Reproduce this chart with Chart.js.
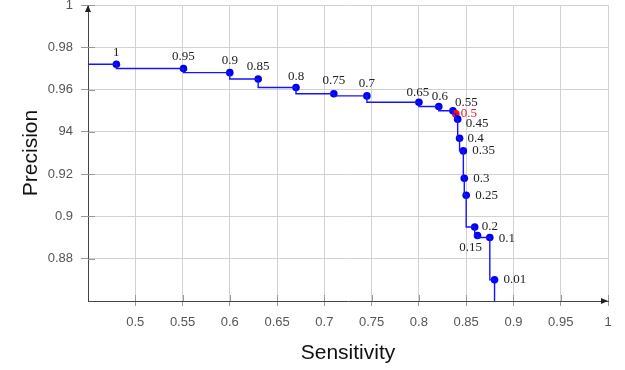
<!DOCTYPE html>
<html><head><meta charset="utf-8">
<script src="https://cdn.jsdelivr.net/npm/chart.js@4/dist/chart.umd.min.js"></script>
<style>html,body{margin:0;padding:0;background:#fff;}#wrap{width:625px;height:370px;position:relative;}</style>
</head><body><div id="wrap"><canvas id="c" width="625" height="370"></canvas></div>
<script>
// ---- data ----
const thresholds = ['1','0.95','0.9','0.85','0.8','0.75','0.7','0.65','0.6','0.55','0.5','0.45','0.4','0.35','0.3','0.25','0.2','0.15','0.1','0.01'];
const sensitivity = [0.48,0.551,0.6,0.63,0.67,0.71,0.745,0.8,0.821,0.836,0.839,0.841,0.843,0.847,0.848,0.85,0.859,0.862,0.875,0.88];
const precision = [0.972,0.970,0.968,0.965,0.961,0.958,0.957,0.954,0.952,0.950,0.9485,0.946,0.937,0.931,0.918,0.910,0.895,0.891,0.890,0.870];
const highlighted = '0.5';
const xTickValues = [0.5,0.55,0.6,0.65,0.7,0.75,0.8,0.85,0.9,0.95,1];
const xTickLabels = ['0.5','0.55','0.6','0.65','0.7','0.75','0.8','0.85','0.9','0.95','1'];
const yTickValues = [0.88,0.9,0.92,0.94,0.96,0.98,1];
const yTickLabels = ['0.88','0.9','0.92','94','0.96','0.98','1'];
const xRange = [0.45, 1];
const yRange = [0.86, 1];
const xTitle = 'Sensitivity';
const yTitle = 'Precision';

// ---- label placement (style) ----
const labelOffsets = [
  [0,-12,'center'],[0,-12,'center'],[0,-12,'center'],[0,-12,'center'],[0,-11,'center'],
  [0,-13,'center'],[0,-12,'center'],[-1,-10,'center'],[1,-10,'center'],[2,-8,'left'],
  [5,0,'left'],[8,4,'left'],[8,0,'left'],[9,0,'left'],[9,0,'left'],[9,0,'left'],
  [7,0,'left'],[-7,12,'center'],[9,1,'left'],[9,0,'left']
];

const points = sensitivity.map((s,i)=>({x:s,y:precision[i]}));
const lineData = [{x:xRange[0],y:precision[0]}].concat(points,[{x:sensitivity[sensitivity.length-1],y:yRange[0]}]);
const pointColors = thresholds.map(t=> t===highlighted ? '#ff1010' : '#0000f0');

const overlay = {
  id:'overlay',
  beforeDatasetsDraw(chart){
    const ctx = chart.ctx, xs = chart.scales.x, ys = chart.scales.y, a = chart.chartArea;
    ctx.save();
    ctx.strokeStyle = '#999'; ctx.lineWidth = 1;
    ctx.beginPath();
    xTickValues.forEach(v=>{ const px = Math.round(xs.getPixelForValue(v))+0.5; ctx.moveTo(px, a.bottom); ctx.lineTo(px, a.bottom-6); });
    yTickValues.forEach(v=>{ const py = Math.round(ys.getPixelForValue(v))+0.5; ctx.moveTo(a.left, py); ctx.lineTo(a.left+7, py); });
    ctx.stroke();
    ctx.restore();
  },
  afterDatasetsDraw(chart){
    const ctx = chart.ctx, xs = chart.scales.x, ys = chart.scales.y;
    ctx.save();
    ctx.font = '13px "Liberation Serif", serif';
    ctx.textBaseline = 'middle';
    thresholds.forEach((t,i)=>{
      const px = xs.getPixelForValue(sensitivity[i]), py = ys.getPixelForValue(precision[i]);
      const o = labelOffsets[i];
      ctx.textAlign = o[2];
      ctx.fillStyle = t===highlighted ? '#e82020' : '#222';
      ctx.fillText(t, px+o[0], py+o[1]);
    });
    ctx.restore();
  },
  afterDraw(chart){
    const ctx = chart.ctx, a = chart.chartArea;
    ctx.save();
    ctx.fillStyle = '#222';
    ctx.beginPath();
    ctx.moveTo(a.left, a.top); ctx.lineTo(a.left-3, a.top+7); ctx.lineTo(a.left+3, a.top+7); ctx.closePath(); ctx.fill();
    ctx.beginPath();
    ctx.moveTo(a.right, a.bottom); ctx.lineTo(a.right-7, a.bottom-3); ctx.lineTo(a.right-7, a.bottom+3); ctx.closePath(); ctx.fill();
    ctx.fillStyle = '#111';
    ctx.font = '21px "Liberation Sans", Arial, sans-serif';
    ctx.textAlign = 'center'; ctx.textBaseline = 'middle';
    ctx.fillText(xTitle, (a.left+a.right)/2, 353);
    ctx.translate(31, (a.top+a.bottom)/2);
    ctx.rotate(-Math.PI/2);
    ctx.fillText(yTitle, 0, 0);
    ctx.restore();
  }
};

function zeroPad(s){ s.paddingTop=0; s.paddingBottom=0; s.paddingLeft=0; s.paddingRight=0; }

new Chart(document.getElementById('c'), {
  type:'scatter',
  data:{datasets:[
    {type:'line', data:lineData, stepped:'after', borderColor:'#1414ff', borderWidth:1.4, pointRadius:0, fill:false, tension:0},
    {type:'scatter', data:points, pointRadius:3.8, pointBackgroundColor:pointColors, pointBorderWidth:0, borderWidth:0, pointHoverRadius:3.8}
  ]},
  options:{
    responsive:false, animation:false, devicePixelRatio:1,
    layout:{padding:{left:0,right:17,top:5,bottom:0}},
    plugins:{legend:{display:false}, tooltip:{enabled:false}},
    scales:{
      x:{type:'linear', min:xRange[0], max:xRange[1],
        afterBuildTicks(s){ s.ticks = xTickValues.map(v=>({value:v})); },
        afterFit(s){ s.height = 69; zeroPad(s); },
        ticks:{callback:(v,i)=>xTickLabels[i], font:{family:'"Liberation Sans", Arial, sans-serif', size:13}, color:'#555', padding:9, maxRotation:0, autoSkip:false},
        grid:{color:'#d2d2d2', tickColor:'#999', tickLength:5, lineWidth:1},
        border:{color:'#444', width:1}
      },
      y:{type:'linear', min:yRange[0], max:yRange[1],
        afterBuildTicks(s){ s.ticks = yTickValues.map(v=>({value:v})); },
        afterFit(s){ s.width = 88; zeroPad(s); },
        ticks:{callback:(v,i)=>yTickLabels[i], font:{family:'"Liberation Sans", Arial, sans-serif', size:13}, color:'#555', padding:8, autoSkip:false},
        grid:{color:'#d2d2d2', tickColor:'#999', tickLength:7, lineWidth:1},
        border:{color:'#444', width:1}
      }
    }
  },
  plugins:[overlay]
});
</script></body></html>
